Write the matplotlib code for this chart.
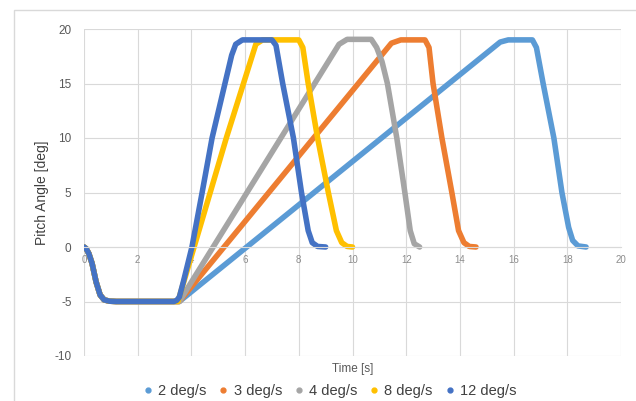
import numpy as np
import matplotlib.pyplot as plt
from matplotlib.lines import Line2D
from matplotlib.patches import Rectangle

plt.rcParams['font.family'] = ['Liberation Sans', 'DejaVu Sans']
plt.rcParams['axes.unicode_minus'] = False

# shared start: dip from 0 to -5 deg, hold
start_t = [0.0, 0.08, 0.18, 0.3, 0.45, 0.6, 0.75, 0.95, 1.2, 3.35]
start_v = [0.0, -0.15, -0.6, -1.5, -3.2, -4.4, -4.85, -4.97, -5.0, -5.0]

# ramp up, hold at 19, come back down to 0
t_2 = [3.55, 15.5, 15.8, 16.7, 16.85, 17.1, 17.5, 17.8, 18.05, 18.2, 18.4, 18.7]
v_2 = [-5.0, 18.8, 19.0, 19.0, 18.3, 15.0, 10.0, 5.0, 1.8, 0.6, 0.1, 0.0]

t_3 = [3.55, 11.45, 11.8, 12.7, 12.85, 13.0, 13.33, 13.7, 13.95, 14.15, 14.35, 14.6]
v_3 = [-5.0, 18.7, 19.0, 19.0, 18.3, 15.0, 10.0, 5.0, 1.5, 0.4, 0.05, 0.0]

t_4 = [3.55, 9.5, 9.8, 10.7, 10.9, 11.1, 11.3, 11.65, 11.95, 12.15, 12.3, 12.5]
v_4 = [-5.0, 18.6, 19.05, 19.05, 18.3, 17.0, 15.0, 10.0, 5.0, 1.5, 0.3, 0.0]

t_8 = [3.5, 5.3, 6.4, 6.65, 8.0, 8.15, 8.35, 8.7, 9.1, 9.4, 9.6, 9.8, 10.0]
v_8 = [-5.0, 10.0, 18.6, 19.0, 19.0, 18.3, 15.0, 10.0, 5.0, 1.5, 0.4, 0.05, 0.0]

t_12 = [3.45, 3.55, 3.7, 4.02, 4.4, 4.77, 5.25, 5.5, 5.65, 5.9, 7.0, 7.15, 7.4,
        7.8, 8.1, 8.35, 8.5, 8.7, 9.0]
v_12 = [-4.9, -4.6, -3.2, 0.0, 5.0, 10.0, 15.0, 17.6, 18.6, 19.0, 19.0, 18.5,
        15.0, 10.0, 5.0, 1.5, 0.4, 0.05, 0.0]

labels = ['2 deg/s', '3 deg/s', '4 deg/s', '8 deg/s', '12 deg/s']
colors = ['#5B9BD5', '#ED7D31', '#A5A5A5', '#FFC000', '#4472C4']
series = [(t_2, v_2), (t_3, v_3), (t_4, v_4), (t_8, v_8), (t_12, v_12)]

fig = plt.figure(figsize=(6.36, 4.01), dpi=100)
fig.patches.append(Rectangle((14 / 636, -0.05), 1.0, 1 - 10 / 401 + 0.05,
                             transform=fig.transFigure, fill=False,
                             edgecolor='#D9D9D9', linewidth=1))
ax = fig.add_axes([84 / 636, 1 - 356 / 401, (621 - 84) / 636, (356 - 29) / 401])

for (t, v), c in zip(series, colors):
    ax.plot(start_t + t, start_v + v, color=c, linewidth=4,
            solid_capstyle='round', solid_joinstyle='round')

ax.set_xlim(0, 20)
ax.set_ylim(-10, 20)
ax.set_xticks(np.arange(0, 21, 2))
ax.set_yticks(np.arange(-10, 21, 5))
ax.grid(True, color='#D9D9D9', linewidth=0.8)
for s in ['top', 'right', 'left']:
    ax.spines[s].set_visible(False)
ax.spines['bottom'].set_position(('data', 0))
ax.spines['bottom'].set_color('#D9D9D9')
ax.spines['bottom'].set_linewidth(0.8)
ax.tick_params(axis='x', length=0, pad=6, labelsize=7, labelcolor='#8C8C8C')
ax.tick_params(axis='y', length=0, pad=9, labelsize=8.5, labelcolor='#595959')

ax.set_ylabel('Pitch Angle [deg]', fontsize=10, color='#404040', labelpad=4)
fig.text(353 / 636, 1 - 369 / 401, 'Time [s]', fontsize=8.5, color='#595959',
         ha='center', va='center')

handles = [Line2D([], [], linestyle='none', marker='o', markersize=3.5,
                  color=c) for c in colors]
fig.legend(handles, labels, loc='center', ncol=5,
           bbox_to_anchor=(330 / 636, 1 - 391 / 401), frameon=False,
           fontsize=10.5, handlelength=0.6, handletextpad=0.4,
           columnspacing=0.85, labelcolor='#404040')

fig.savefig('out.png', dpi=100)
